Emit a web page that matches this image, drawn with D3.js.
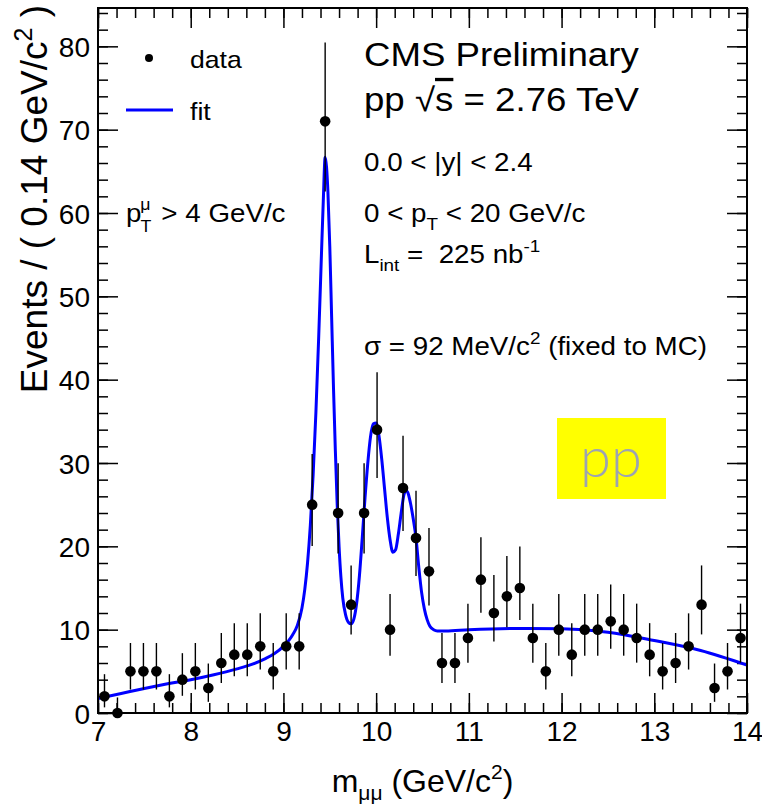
<!DOCTYPE html>
<html>
<head>
<meta charset="utf-8">
<script src="https://cdn.jsdelivr.net/npm/d3@7/dist/d3.min.js"></script>
<style>
  body { margin: 0; background: #fff; }
  text { font-family: 'Liberation Sans', Arial, Helvetica, sans-serif; fill: #000; }
</style>
</head>
<body>
<div id="chart"></div>
<script>
// bin centres of m_mumu (GeV/c^2), 0.14 wide
var mass = [7.07, 7.21, 7.35, 7.49, 7.63, 7.77, 7.91, 8.05, 8.19, 8.33,
  8.47, 8.61, 8.75, 8.89, 9.03, 9.17, 9.31, 9.45, 9.59, 9.73,
  9.87, 10.01, 10.15, 10.29, 10.43, 10.57, 10.71, 10.85, 10.99, 11.13,
  11.27, 11.41, 11.55, 11.69, 11.83, 11.97, 12.11, 12.25, 12.39, 12.53,
  12.67, 12.81, 12.95, 13.09, 13.23, 13.37, 13.51, 13.65, 13.79, 13.93]
var counts = [2, 0, 5, 5, 5, 2, 4, 5, 3, 6,
  7, 7, 8, 5, 8, 8, 25, 71, 24, 13,
  24, 34, 10, 27, 21, 17, 6, 6, 9, 16,
  12, 14, 15, 9, 5, 10, 7, 10, 10, 11,
  10, 9, 7, 5, 6, 8, 13, 3, 5, 9]

// fit curve
var fitX = [7.00, 7.25, 7.50, 7.75, 8.00, 8.25, 8.50, 8.65, 8.80, 8.90,
  9.00, 9.05, 9.10, 9.15, 9.20, 9.23, 9.26, 9.29, 9.32, 9.35,
  9.38, 9.41, 9.43, 9.45, 9.465, 9.48, 9.50, 9.52, 9.54, 9.56,
  9.58, 9.60, 9.62, 9.64, 9.67, 9.70, 9.73, 9.76, 9.79, 9.82,
  9.85, 9.88, 9.91, 9.94, 9.97, 10.00, 10.03, 10.06, 10.09, 10.12,
  10.15, 10.18, 10.21, 10.24, 10.27, 10.30, 10.32, 10.34, 10.37, 10.40,
  10.43, 10.46, 10.49, 10.52, 10.55, 10.58, 10.62, 10.66, 10.75, 11.0,
  11.5, 12.0, 12.5, 13.0, 13.5, 14.0]
var fitY = [1.75, 2.35, 2.95, 3.5, 4.0, 4.6, 5.3, 5.8, 6.5, 7.1,
  8.0, 8.6, 9.4, 10.5, 12.6, 14.8, 18.0, 22.5, 28.5, 36,
  45, 55, 61.5, 66.7, 65.5, 62.5, 56, 47.5, 39, 31.5,
  25, 20, 16.3, 13.8, 11.8, 10.9, 10.7, 11.3, 13.2, 16.5,
  21, 25.8, 30, 33.2, 34.7, 34.8, 33.3, 30.5, 27, 23.5,
  20.8, 19.3, 19.6, 21.5, 24, 26.2, 26.7, 26.5, 25.2, 23.3,
  21, 17.5, 14.5, 12.5, 11.2, 10.4, 10.0, 9.85, 9.85, 10.0,
  10.15, 10.1, 9.7, 8.7, 7.5, 5.75]

var xMajor = [7, 8, 9, 10, 11, 12, 13, 14]
var yMajor = [0, 10, 20, 30, 40, 50, 60, 70, 80]

var W = 762
var H = 806
var margin = {top: 8, right: 15, bottom: 93, left: 98}
var width = W - margin.left - margin.right
var height = H - margin.top - margin.bottom

var svg = d3.select('#chart')
  .append('svg')
  .attr('width', W)
  .attr('height', H)

var g = svg.append('g')
  .attr('transform', 'translate(' + margin.left + ',' + margin.top + ')')

var x = d3.scaleLinear().domain([7, 14]).range([0, width])
var y = d3.scaleLinear().domain([0, 84.6]).range([height, 0])

var xMinor = d3.range(7, 14.001, 0.2).map(function (d) { return +d.toFixed(1) })
var yMinor = d3.range(0, 85, 2)

// axes with ticks pointing inwards on all four sides
function tickLayer (axis, transform) {
  var a = g.append('g').attr('transform', transform).call(axis)
  a.select('.domain').remove()
  a.selectAll('line').attr('stroke', '#000').attr('stroke-width', 1.5)
  return a
}
tickLayer(d3.axisBottom(x).tickValues(xMinor).tickSize(-10).tickFormat(''), 'translate(0,' + height + ')')
var xa = tickLayer(d3.axisBottom(x).tickValues(xMajor).tickSize(-20).tickPadding(30).tickFormat(d3.format('d')), 'translate(0,' + height + ')')
tickLayer(d3.axisTop(x).tickValues(xMinor).tickSize(-10).tickFormat(''), 'translate(0,0)')
tickLayer(d3.axisTop(x).tickValues(xMajor).tickSize(-20).tickFormat(''), 'translate(0,0)')
tickLayer(d3.axisLeft(y).tickValues(yMinor).tickSize(-10).tickFormat(''), 'translate(0,0)')
var ya = tickLayer(d3.axisLeft(y).tickValues(yMajor).tickSize(-20).tickPadding(28).tickFormat(d3.format('d')), 'translate(0,0)')
tickLayer(d3.axisRight(y).tickValues(yMinor).tickSize(-10).tickFormat(''), 'translate(' + width + ',0)')
tickLayer(d3.axisRight(y).tickValues(yMajor).tickSize(-20).tickFormat(''), 'translate(' + width + ',0)')

xa.selectAll('text').style('font-size', '28px').attr('dy', '0.71em').attr('y', 8)
ya.selectAll('text').style('font-size', '28px').attr('x', -8).attr('dy', '0.36em')

// fit
var line = d3.line()
  .x(function (d) { return x(d[0]) })
  .y(function (d) { return y(d[1]) })
  .curve(d3.curveMonotoneX)
g.append('path')
  .datum(fitX.map(function (d, i) { return [d, fitY[i]] }))
  .attr('d', line)
  .attr('fill', 'none')
  .attr('stroke', '#0000ff')
  .attr('stroke-width', 3)

// data with poisson error bars
var pts = mass.map(function (m, i) {
  var n = counts[i]
  var lo = n > 0 ? n - Math.sqrt(n - 0.25) : 0
  var hi = n + 1 + Math.sqrt(n + 0.75)
  return {m: m, n: n, lo: lo, hi: hi}
})
g.selectAll('line.err')
  .data(pts)
  .enter()
  .append('line')
  .attr('class', 'err')
  .attr('x1', function (d) { return x(d.m) })
  .attr('x2', function (d) { return x(d.m) })
  .attr('y1', function (d) { return y(d.lo) })
  .attr('y2', function (d) { return y(Math.min(d.hi, 84.6)) })
  .attr('stroke', '#000')
  .attr('stroke-width', 1.4)
g.selectAll('circle.pt')
  .data(pts)
  .enter()
  .append('circle')
  .attr('class', 'pt')
  .attr('cx', function (d) { return x(d.m) })
  .attr('cy', function (d) { return y(d.n) })
  .attr('r', 5.3)
  .attr('fill', '#000')

// frame
g.append('rect')
  .attr('width', width)
  .attr('height', height)
  .attr('fill', 'none')
  .attr('stroke', '#000')
  .attr('stroke-width', 2)

// axis titles
svg.append('text')
  .attr('transform', 'translate(47,5) rotate(-90)')
  .attr('text-anchor', 'end')
  .style('font-size', '37px')
  .html('Events / ( 0.14 GeV/c<tspan dy="-15" font-size="25px">2</tspan><tspan dy="15"> )</tspan>')

svg.append('text')
  .attr('x', margin.left + width / 2)
  .attr('y', 792)
  .attr('text-anchor', 'middle')
  .style('font-size', '32px')
  .html('m<tspan dy="8" font-size="21px">μμ</tspan><tspan dy="-8"> (GeV/c</tspan><tspan dy="-13" font-size="21px">2</tspan><tspan dy="13">)</tspan>')

// annotation text, a bit wider than Liberation Sans like the original
function label (px, py, size, html) {
  return svg.append('text')
    .attr('transform', 'translate(' + px + ',' + py + ') scale(1.11,1)')
    .style('font-size', size + 'px')
    .html(html)
}

// legend
svg.append('circle').attr('cx', 149).attr('cy', 58).attr('r', 4).attr('fill', '#000')
label(190, 68, 24, 'data')
svg.append('line').attr('x1', 126).attr('x2', 173).attr('y1', 110).attr('y2', 110)
  .attr('stroke', '#0000ff').attr('stroke-width', 3)
label(190, 120, 24, 'fit')

label(126, 222, 25, 'p<tspan dx="-1" dy="-12" font-size="16px">μ</tspan><tspan dx="-9" dy="22" font-size="16px">T</tspan><tspan dy="-10" dx="2"> &gt; 4 GeV/c</tspan>')

// right-hand labels
label(364, 66, 33, 'CMS Preliminary')
label(364, 111, 33, 'pp √<tspan style="text-decoration: overline">s</tspan> = 2.76 TeV')
label(364, 171, 25, '0.0 &lt; |y| &lt; 2.4')
label(364, 222, 25, '0 &lt; p<tspan dy="8" font-size="17px">T</tspan><tspan dy="-8"> &lt; 20 GeV/c</tspan>')
label(364, 263, 25, 'L<tspan dy="8" font-size="17px">int</tspan><tspan dy="-8"> =&#160;&#160;225 nb</tspan><tspan dy="-11" font-size="17px">-1</tspan>')
label(364, 355, 25, 'σ = 92 MeV/c<tspan dy="-11" font-size="17px">2</tspan><tspan dy="11"> (fixed to MC)</tspan>')

// pp badge
svg.append('rect').attr('x', 557).attr('y', 418).attr('width', 109).attr('height', 81).attr('fill', '#ffff00')
svg.append('text').attr('x', 611).attr('y', 477).attr('text-anchor', 'middle')
  .style('font-family', 'Lato, "Liberation Sans", sans-serif')
  .style('font-weight', 300)
  .style('font-size', '56px').style('fill', '#9ca3b3').text('pp')
</script>
</body>
</html>
